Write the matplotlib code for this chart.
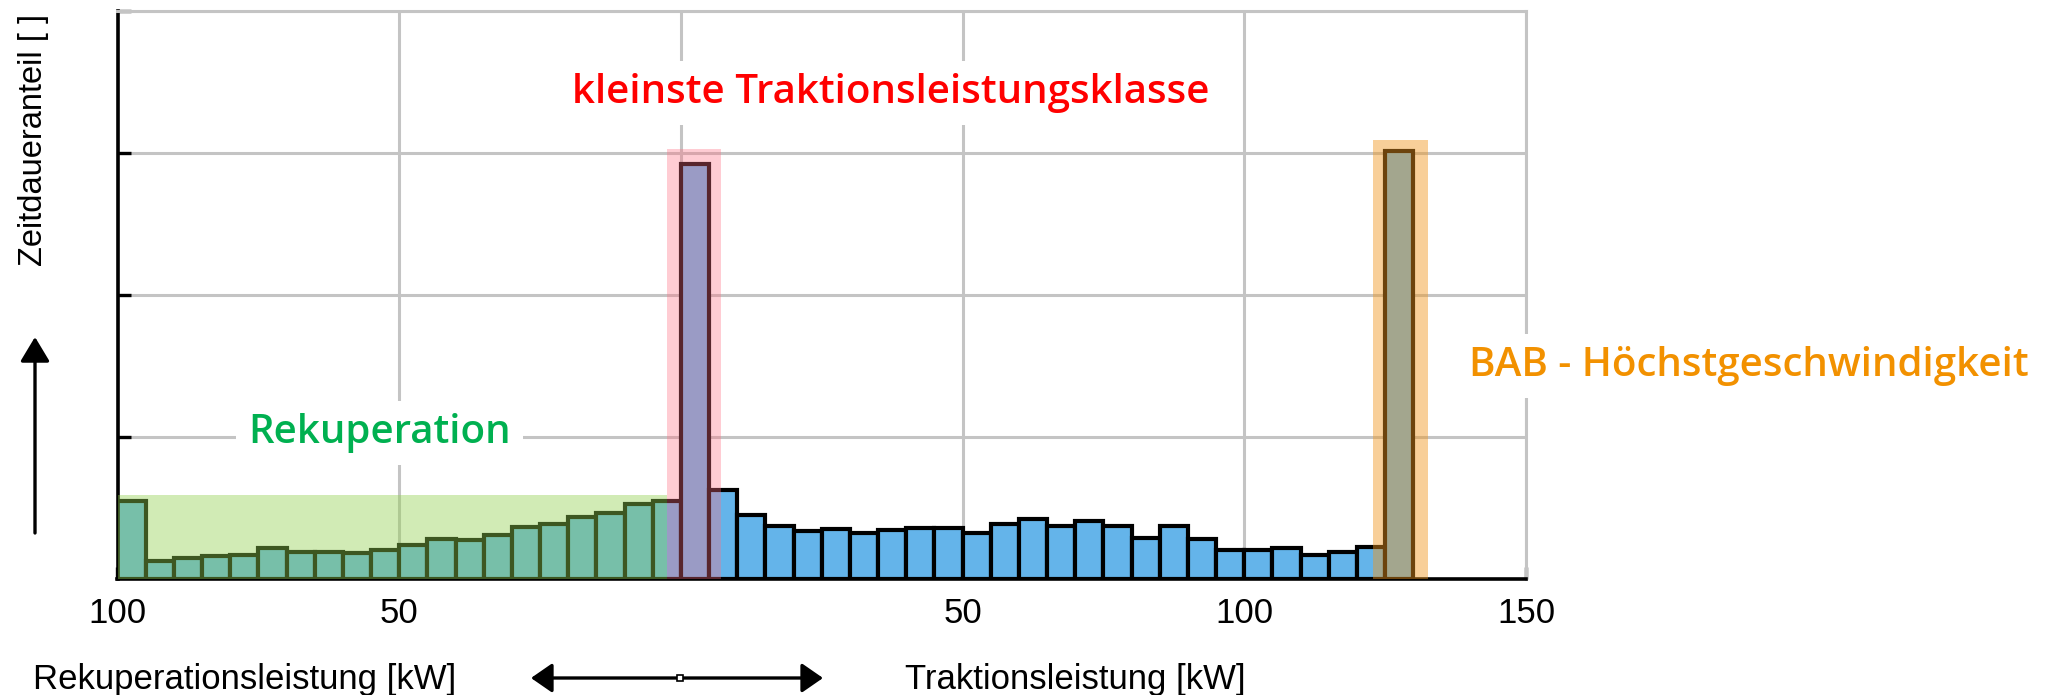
import numpy as np
import matplotlib
matplotlib.use('Agg')
import matplotlib.pyplot as plt
from matplotlib.patches import Rectangle, FancyArrowPatch
from matplotlib.lines import Line2D

# ---------------- data ----------------
bin_width = 5
rekup_start = -100
rekup_values = [0.547, 0.124, 0.148, 0.164, 0.171, 0.218, 0.190, 0.190, 0.183, 0.207,
                0.242, 0.284, 0.272, 0.312, 0.366, 0.387, 0.437, 0.465, 0.528, 0.547]
trakt_start = 0
trakt_values = [2.925, 0.629, 0.453, 0.371, 0.340, 0.354, 0.324, 0.343, 0.359, 0.356,
                0.322, 0.387, 0.423, 0.371, 0.406, 0.376, 0.289, 0.371, 0.284, 0.202,
                0.202, 0.215, 0.171, 0.188, 0.223, 3.014]
x_ticks = [-100, -50, 0, 50, 100, 150]
x_tick_labels = ['100', '50', '', '50', '100', '150']
y_ticks = [1, 2, 3, 4]

# highlight regions: (x0, x1, top)
green_region = (-100, -2.4, 0.592)
pink_region = (-2.4, 7.2, 3.03)
orange_region = (122.8, 132.6, 3.09)

label_rekup_text = 'Rekuperation'
label_klein_text = 'kleinste Traktionsleistungsklasse'
label_bab_text = 'BAB - Höchstgeschwindigkeit'
ylabel_text = 'Zeitdaueranteil [ ]'
xlabel_left = 'Rekuperationsleistung [kW]'
xlabel_right = 'Traktionsleistung [kW]'

# ---------------- figure ----------------
W, H = 2062, 695
fig = plt.figure(figsize=(W / 100, H / 100), dpi=100)
ax_left, ax_right, ax_bot, ax_top = 117.5, 1526, 579, 11
ax = fig.add_axes([ax_left / W, 1 - ax_bot / H, (ax_right - ax_left) / W, (ax_bot - ax_top) / H])

bar_blue = '#64b4ea'
rx = rekup_start + bin_width * np.arange(len(rekup_values))
tx = trakt_start + bin_width * np.arange(len(trakt_values))
ax.bar(rx, rekup_values, width=bin_width, align='edge', color=bar_blue,
       edgecolor='black', linewidth=3.0, zorder=2)
ax.bar(tx, trakt_values, width=bin_width, align='edge', color=bar_blue,
       edgecolor='black', linewidth=3.0, zorder=2)

# highlight overlays
for (x0, x1, top), col, a in [(green_region, '#92d050', 0.42),
                              (pink_region, '#ff6e82', 0.35),
                              (orange_region, '#f0961e', 0.45)]:
    ax.add_patch(Rectangle((x0, 0), x1 - x0, top, facecolor=col, edgecolor='none',
                           alpha=a, zorder=3))

ax.set_xlim(-100, 150)
ax.set_ylim(0, 4)
ax.set_xticks(x_ticks)
ax.set_xticklabels(x_tick_labels, family=['Liberation Sans', 'DejaVu Sans'], fontsize=25)
ax.set_yticks(y_ticks)
ax.set_yticklabels([])
ax.set_axisbelow(True)
ax.grid(True, color='#c4c4c4', linewidth=2.2)
ax.tick_params(axis='y', direction='in', length=9, width=2.4, color='black')
ax.tick_params(axis='x', direction='in', length=9, width=2.4, color='black', pad=13)

for s in ['left', 'bottom']:
    ax.spines[s].set_color('black')
    ax.spines[s].set_linewidth(2.6)
for s in ['top', 'right']:
    ax.spines[s].set_color('#c4c4c4')
    ax.spines[s].set_linewidth(2.2)

ann_font = ['Open Sans', 'DejaVu Sans']
box = dict(boxstyle='square,pad=0.3', facecolor='white', edgecolor='none')
ax.text(-53.5, 0.958, label_rekup_text, color='#00b050', fontsize=29, fontweight='semibold',
        family=ann_font, ha='center', va='baseline', bbox=box, zorder=4)
ax.text(37.2, 3.352, label_klein_text, color='#ff0000', fontsize=29, fontweight='semibold',
        family=ann_font, ha='center', va='baseline', bbox=box, zorder=4)
ax.text(189.5, 1.43, label_bab_text, color='#f29100', fontsize=29, fontweight='semibold',
        family=ann_font, ha='center', va='baseline', bbox=box, zorder=4, clip_on=False)

lab_font = ['Liberation Sans', 'DejaVu Sans']
fig.text(34 / W, 1 - 140 / H, ylabel_text, rotation=90, fontsize=23.5, family=lab_font,
         ha='center', va='center')
fig.text(33 / W, 1 - 689 / H, xlabel_left, fontsize=25, family=lab_font, ha='left', va='baseline')
fig.text(905 / W, 1 - 689 / H, xlabel_right, fontsize=25, family=lab_font, ha='left', va='baseline')

# vertical arrow
fig.add_artist(FancyArrowPatch((35 / W, 1 - 533 / H), (35 / W, 1 - 337 / H),
                               transform=fig.transFigure,
                               arrowstyle='-|>,head_length=0.75,head_width=0.45',
                               mutation_scale=20, color='black', linewidth=2.4,
                               shrinkA=0, shrinkB=0))
# horizontal double arrow
fig.add_artist(FancyArrowPatch((531 / W, 1 - 678 / H), (823 / W, 1 - 678 / H),
                               transform=fig.transFigure,
                               arrowstyle='<|-|>,head_length=0.65,head_width=0.45',
                               mutation_scale=20, color='black', linewidth=2.4,
                               shrinkA=0, shrinkB=0))
fig.add_artist(Line2D([680 / W], [1 - 678 / H], transform=fig.transFigure, marker='s',
                      markersize=4.5, markerfacecolor='white', markeredgecolor='black',
                      markeredgewidth=1.2, linestyle='none'))

fig.savefig('out.png', dpi=100)
